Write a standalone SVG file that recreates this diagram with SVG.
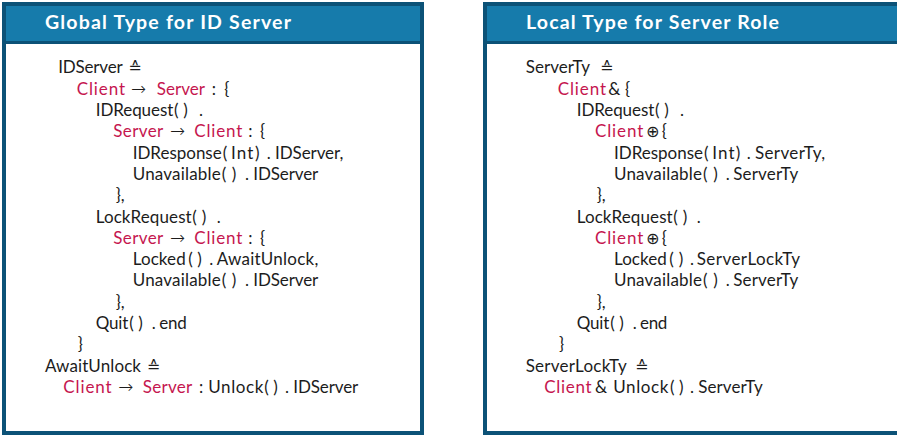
<svg xmlns="http://www.w3.org/2000/svg" width="897" height="436" viewBox="0 0 897 436">
  <style>
    .frame { fill: #ffffff; stroke: #0c5277; stroke-width: 4; }
    .head { fill: #167bab; }
    .rule { fill: #0c5277; }
    .title { font-family: Lato, "Open Sans", sans-serif; font-weight: 700; font-size: 19.5px; fill: #ffffff; }
    .t { font-family: Lato, "Noto Sans", "DejaVu Sans", sans-serif; font-size: 17px; fill: #1c1c1c; }
    .r { fill: #c5164f; }
    .s { font-family: "DejaVu Sans", sans-serif; font-size: 16px; }
    .a { font-family: "DejaVu Sans", sans-serif; font-size: 18px; font-weight: 300; }
  </style>

  <!-- Global type panel -->
  <g id="global-type">
    <rect class="frame" x="4" y="4" width="418" height="429"/>
    <rect class="head" x="6" y="6" width="414" height="35"/>
    <rect class="rule" x="2" y="41" width="422" height="3"/>
    <text class="title" x="45" y="28.5" textLength="246">Global Type for ID Server</text>

    <text class="t" y="73.4"><tspan x="58.3" textLength="64.4">IDServer</tspan><tspan class="s" x="128.3">≙</tspan></text>
    <text class="t" y="94.7"><tspan class="r" x="76.7" textLength="48.3">Client</tspan><tspan class="a" x="131">→</tspan><tspan class="r" x="156.7" textLength="48.3">Server</tspan><tspan x="211.7">:</tspan><tspan x="224.3">{</tspan></text>
    <text class="t" y="116"><tspan x="95.7" textLength="77.6">IDRequest</tspan><tspan x="174">(</tspan><tspan x="183.3">)</tspan><tspan x="199">.</tspan></text>
    <text class="t" y="137.3"><tspan class="r" x="113.3" textLength="50">Server</tspan><tspan class="a" x="170">→</tspan><tspan class="r" x="194.3" textLength="48">Client</tspan><tspan x="248.3">:</tspan><tspan x="260">{</tspan></text>
    <text class="t" y="158.6"><tspan x="132.7" textLength="89">IDResponse</tspan><tspan x="222.7">(</tspan><tspan x="231" textLength="22.3">Int</tspan><tspan x="255">)</tspan><tspan x="266.7">.</tspan><tspan x="275" textLength="68.3">IDServer,</tspan></text>
    <text class="t" y="179.9"><tspan x="132.7" textLength="88">Unavailable</tspan><tspan x="221.7">(</tspan><tspan x="231.7">)</tspan><tspan x="245">.</tspan><tspan x="253.3" textLength="65">IDServer</tspan></text>
    <text class="t" y="201.2"><tspan x="115.7">},</tspan></text>
    <text class="t" y="222.5"><tspan x="95.7" textLength="96">LockRequest</tspan><tspan x="192.3">(</tspan><tspan x="201.7">)</tspan><tspan x="216.7">.</tspan></text>
    <text class="t" y="243.8"><tspan class="r" x="113.3" textLength="50">Server</tspan><tspan class="a" x="170">→</tspan><tspan class="r" x="194.3" textLength="48">Client</tspan><tspan x="248.3">:</tspan><tspan x="260">{</tspan></text>
    <text class="t" y="265.1"><tspan x="132.7" textLength="53">Locked</tspan><tspan x="188.3">(</tspan><tspan x="197.3">)</tspan><tspan x="209.3">.</tspan><tspan x="216.7" textLength="101.6">AwaitUnlock,</tspan></text>
    <text class="t" y="286.4"><tspan x="132.7" textLength="88">Unavailable</tspan><tspan x="221.7">(</tspan><tspan x="231.7">)</tspan><tspan x="245">.</tspan><tspan x="253.3" textLength="65">IDServer</tspan></text>
    <text class="t" y="307.7"><tspan x="115.7">},</tspan></text>
    <text class="t" y="329"><tspan x="95.7" textLength="32.6">Quit</tspan><tspan x="129.3">(</tspan><tspan x="138.3">)</tspan><tspan x="151.7">.</tspan><tspan x="159.3" textLength="27.4">end</tspan></text>
    <text class="t" y="350.3"><tspan x="77.7">}</tspan></text>
    <text class="t" y="371.6"><tspan x="45" textLength="96">AwaitUnlock</tspan><tspan class="s" x="146.7">≙</tspan></text>
    <text class="t" y="392.9"><tspan class="r" x="63.3" textLength="48.4">Client</tspan><tspan class="a" x="118.3">→</tspan><tspan class="r" x="142.7" textLength="49.6">Server</tspan><tspan x="199">:</tspan><tspan x="208.3" textLength="55">Unlock</tspan><tspan x="264.3">(</tspan><tspan x="273.3">)</tspan><tspan x="285">.</tspan><tspan x="293.3" textLength="65">IDServer</tspan></text>
  </g>

  <!-- Local type panel (runs past the right edge) -->
  <g id="local-type">
    <rect class="frame" x="485" y="4" width="500" height="429"/>
    <rect class="head" x="487" y="6" width="420" height="35"/>
    <rect class="rule" x="483" y="41" width="420" height="3"/>
    <text class="title" x="526" y="28.5" textLength="253">Local Type for Server Role</text>

    <text class="t" y="73.4"><tspan x="525.7" textLength="64.3">ServerTy</tspan><tspan class="s" x="600">≙</tspan></text>
    <text class="t" y="94.7"><tspan class="r" x="557.7" textLength="48.3">Client</tspan><tspan x="608.3">&amp;</tspan><tspan x="625">{</tspan></text>
    <text class="t" y="116"><tspan x="576.7" textLength="77.6">IDRequest</tspan><tspan x="655">(</tspan><tspan x="664.3">)</tspan><tspan x="680">.</tspan></text>
    <text class="t" y="137.3"><tspan class="r" x="595" textLength="48.3">Client</tspan><tspan class="s" x="646">⊕</tspan><tspan x="661.7">{</tspan></text>
    <text class="t" y="158.6"><tspan x="614" textLength="89">IDResponse</tspan><tspan x="704">(</tspan><tspan x="712.3" textLength="22.3">Int</tspan><tspan x="735.7">)</tspan><tspan x="746.7">.</tspan><tspan x="755" textLength="70">ServerTy,</tspan></text>
    <text class="t" y="179.9"><tspan x="614" textLength="88">Unavailable</tspan><tspan x="703">(</tspan><tspan x="713.3">)</tspan><tspan x="725.7">.</tspan><tspan x="733.3" textLength="65">ServerTy</tspan></text>
    <text class="t" y="201.2"><tspan x="596.7">},</tspan></text>
    <text class="t" y="222.5"><tspan x="576.7" textLength="96">LockRequest</tspan><tspan x="673.3">(</tspan><tspan x="682.7">)</tspan><tspan x="696.7">.</tspan></text>
    <text class="t" y="243.8"><tspan class="r" x="595" textLength="48.3">Client</tspan><tspan class="s" x="646">⊕</tspan><tspan x="661.7">{</tspan></text>
    <text class="t" y="265.1"><tspan x="614" textLength="52.7">Locked</tspan><tspan x="669.3">(</tspan><tspan x="678.7">)</tspan><tspan x="690">.</tspan><tspan x="696.7" textLength="103.3">ServerLockTy</tspan></text>
    <text class="t" y="286.4"><tspan x="614" textLength="88">Unavailable</tspan><tspan x="703">(</tspan><tspan x="713.3">)</tspan><tspan x="725.7">.</tspan><tspan x="733.3" textLength="65">ServerTy</tspan></text>
    <text class="t" y="307.7"><tspan x="596.7">},</tspan></text>
    <text class="t" y="329"><tspan x="576.7" textLength="32.6">Quit</tspan><tspan x="610.3">(</tspan><tspan x="619.3">)</tspan><tspan x="632.7">.</tspan><tspan x="640" textLength="27.3">end</tspan></text>
    <text class="t" y="350.3"><tspan x="559">}</tspan></text>
    <text class="t" y="371.6"><tspan x="525.7" textLength="101">ServerLockTy</tspan><tspan class="s" x="635">≙</tspan></text>
    <text class="t" y="392.9"><tspan class="r" x="544.3" textLength="47.4">Client</tspan><tspan x="595">&amp;</tspan><tspan x="613.3" textLength="55">Unlock</tspan><tspan x="670">(</tspan><tspan x="679">)</tspan><tspan x="690">.</tspan><tspan x="698.3" textLength="64.4">ServerTy</tspan></text>
  </g>
</svg>
